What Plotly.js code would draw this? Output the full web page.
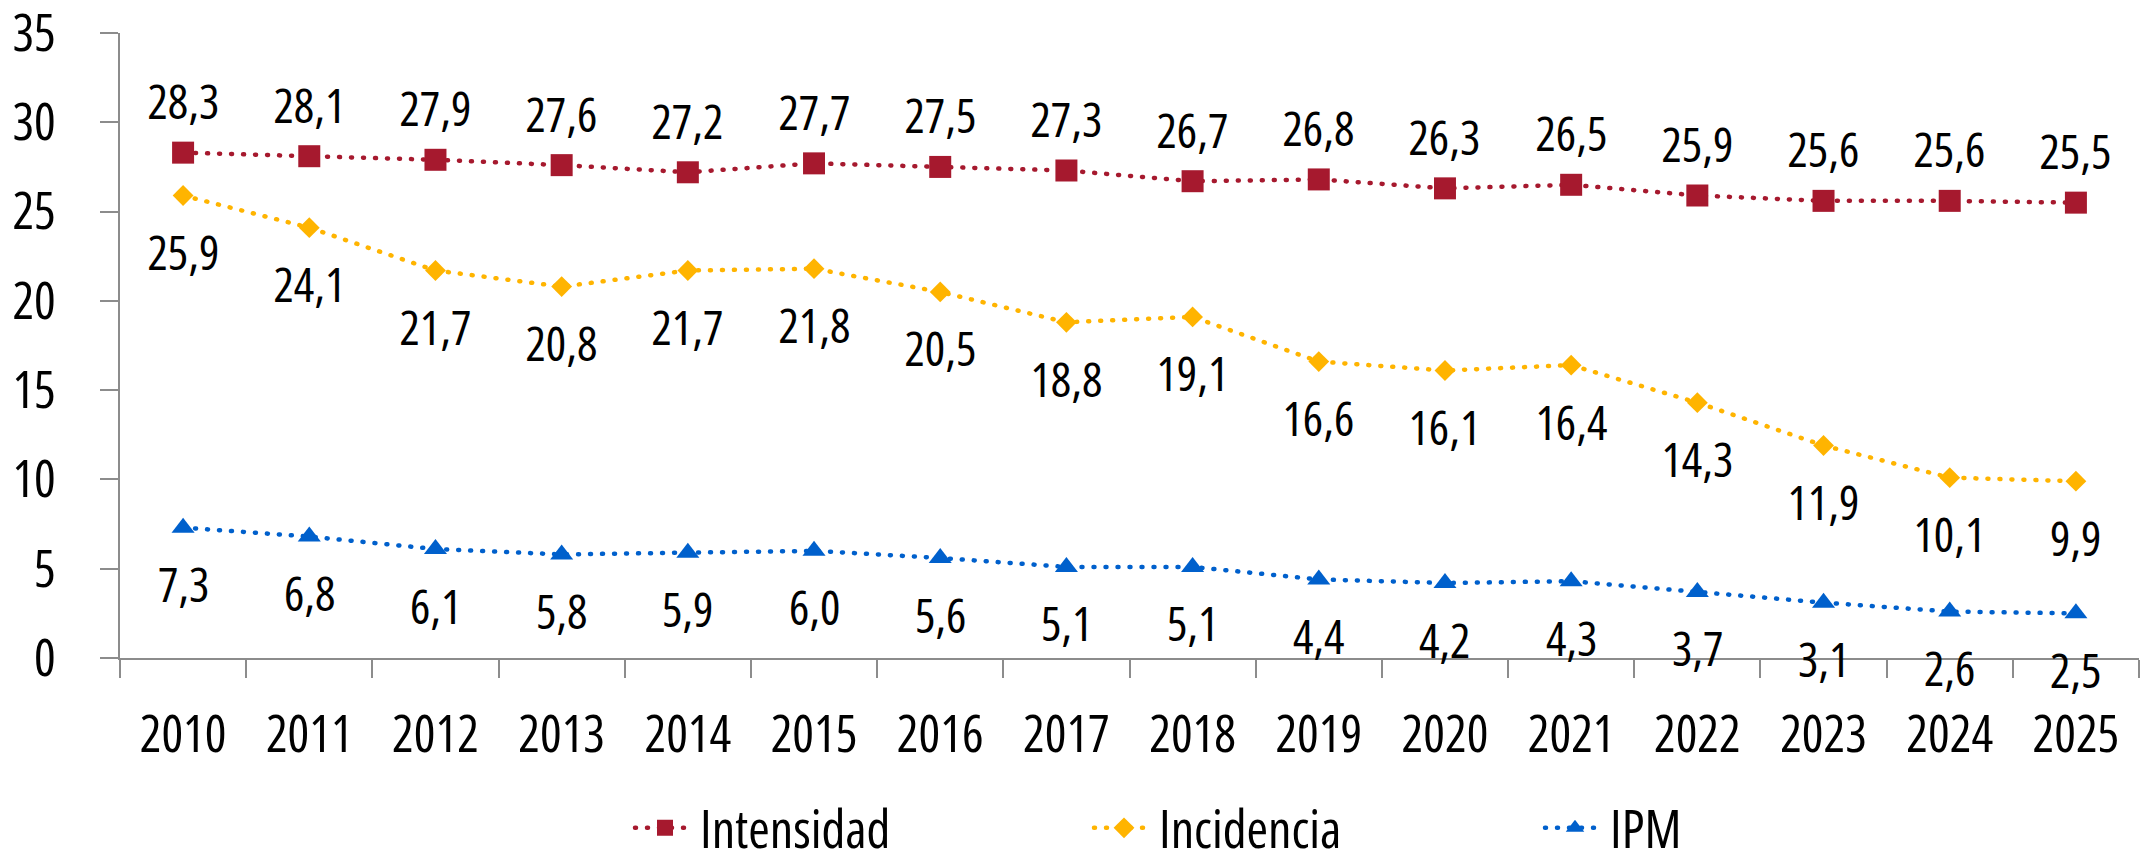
<!DOCTYPE html>
<html>
<head>
<meta charset="utf-8">
<script src="https://cdn.plot.ly/plotly-3.0.1.min.js"></script>
<style>
html,body{margin:0;padding:0;background:#fff;}
#chart{width:2146px;height:854px;}
#chart svg text{font-stretch:75%;}
#chart .scatterlayer .js-line, #chart .legendlines path{stroke-linecap:round;}
</style>
</head>
<body>
<div id="chart"></div>
<script>
const years = ['2010','2011','2012','2013','2014','2015','2016','2017','2018','2019','2020','2021','2022','2023','2024','2025'];
const intensidad = [28.3,28.1,27.9,27.6,27.2,27.7,27.5,27.3,26.7,26.8,26.3,26.5,25.9,25.6,25.6,25.5];
const incidencia = [25.9,24.1,21.7,20.8,21.7,21.8,20.5,18.8,19.1,16.6,16.1,16.4,14.3,11.9,10.1,9.9];
const ipm = [7.3,6.8,6.1,5.8,5.9,6.0,5.6,5.1,5.1,4.4,4.2,4.3,3.7,3.1,2.6,2.5];
const seriesNames = ['Intensidad','Incidencia','IPM'];

const FONT = '"Open Sans", sans-serif';
const colors = ['#A6192E','#FFB400','#0060CC'];
const symbols = ['square','diamond','triangle-up'];
const msizes = [22,16,20];
const data = [intensidad, incidencia, ipm];
const legends = ['legend','legend2','legend3'];

const traces = data.map((vals, i) => ({
  type: 'scatter',
  mode: 'lines+markers',
  name: seriesNames[i],
  x: years,
  y: vals,
  line: {color: colors[i], width: 4.5, dash: '1px,11px'},
  marker: {color: colors[i], symbol: symbols[i], size: msizes[i]},
  legend: legends[i],
  hoverinfo: 'x+y'
}));

const fmt = v => v.toFixed(1).replace('.', ',');
const annotations = [];
data.forEach((vals, i) => {
  vals.forEach((v, j) => {
    annotations.push({
      x: j, y: v, xref: 'x', yref: 'y',
      text: fmt(v), showarrow: false,
      xanchor: 'center', yanchor: 'middle',
      yshift: i === 0 ? 52 : -56,
      font: {family: FONT, size: 48, weight: 500, color: '#000'}
    });
  });
});

const legendBase = {
  orientation: 'h', yanchor: 'middle', xanchor: 'left', y: -0.272,
  font: {family: FONT, size: 52, color: '#000'},
  bgcolor: 'rgba(0,0,0,0)', borderwidth: 0, itemwidth: 60
};

const layout = {
  width: 2146, height: 854,
  margin: {l: 120, r: 7, t: 33, b: 196, pad: 0, autoexpand: false},
  paper_bgcolor: '#fff', plot_bgcolor: '#fff',
  font: {family: FONT, size: 50, color: '#000'},
  showlegend: true,
  xaxis: {
    type: 'category', range: [-0.5, 15.5], tickangle: 0, automargin: false,
    showline: true, linecolor: '#8C8C8C', linewidth: 2,
    ticks: 'outside', tickson: 'boundaries', ticklen: 18, tickwidth: 2, tickcolor: '#8C8C8C',
    showgrid: false, zeroline: false,
    tickfont: {family: FONT, size: 51, weight: 500, color: '#000'},
    ticklabelstandoff: 31, ticklabeloverflow: 'allow'
  },
  yaxis: {
    range: [0, 35], dtick: 5, tick0: 0, automargin: false,
    showline: true, linecolor: '#8C8C8C', linewidth: 2,
    ticks: 'outside', ticklen: 18, tickwidth: 2, tickcolor: '#8C8C8C',
    showgrid: false, zeroline: false,
    tickfont: {family: FONT, size: 51, weight: 500, color: '#000'},
    ticklabelstandoff: 34, ticklabeloverflow: 'allow'
  },
  legend: Object.assign({}, legendBase, {x: (630 - 120) / 2019}),
  legend2: Object.assign({}, legendBase, {x: (1089 - 120) / 2019}),
  legend3: Object.assign({}, legendBase, {x: (1540 - 120) / 2019}),
  annotations: annotations
};

Plotly.newPlot('chart', traces, layout, {displayModeBar: false, staticPlot: true});
</script>
</body>
</html>
